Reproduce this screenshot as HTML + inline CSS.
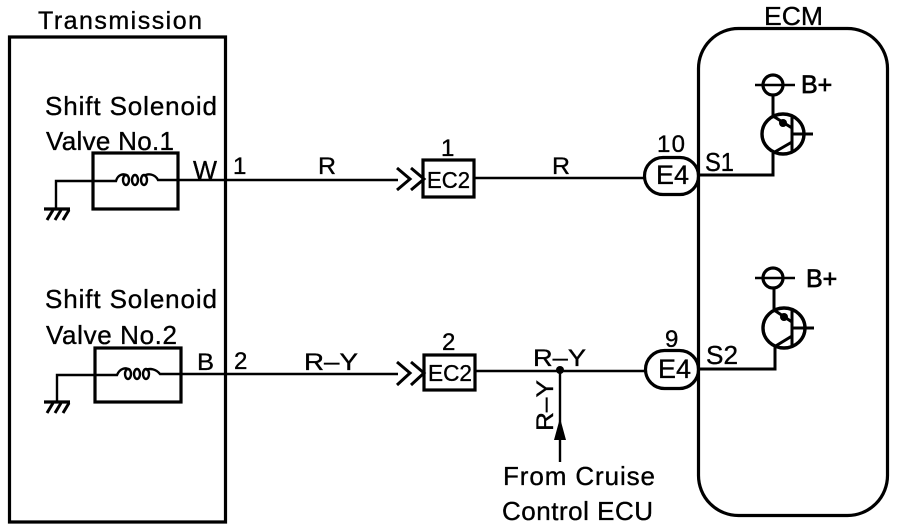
<!DOCTYPE html>
<html>
<head>
<meta charset="utf-8">
<style>
html,body{margin:0;padding:0;background:#fff}
svg{display:block}
text{font-family:"Liberation Sans",sans-serif;fill:#000;stroke:#000;stroke-width:.35;font-size:26px}
.t{font-size:24px}
.e{font-size:27px}
.w{fill:none;stroke:#000;stroke-width:2.4}
.a{fill:none;stroke:#000;stroke-width:3}
.b{fill:none;stroke:#000;stroke-width:3.2}
</style>
</head>
<body>
<svg width="912" height="530" viewBox="0 0 912 530" xmlns="http://www.w3.org/2000/svg">
<rect width="912" height="530" fill="#fff"/>

<!-- Transmission -->
<path class="b" d="M9.5 37H225.5V522H9.5Z"/>
<text x="38" y="29" style="font-size:25px" textLength="164" lengthAdjust="spacing">Transmission</text>
<text x="45" y="115" textLength="172" lengthAdjust="spacing">Shift Solenoid</text>
<text x="46" y="150" textLength="128" lengthAdjust="spacing">Valve No.1</text>
<text x="45" y="308" textLength="172" lengthAdjust="spacing">Shift Solenoid</text>
<text x="46" y="344" textLength="131" lengthAdjust="spacing">Valve No.2</text>

<!-- Solenoid 1 -->
<rect class="b" x="93" y="153" width="85" height="56"/>
<path class="w" d="M56 209V181H116C118 174 124 173 128 176M144 176C148 173 155 174 158 180H398"/>
<ellipse class="w" cx="126" cy="180" rx="3" ry="5"/>
<ellipse class="w" cx="135" cy="180" rx="3" ry="5"/>
<ellipse class="w" cx="144" cy="180" rx="3" ry="5"/>
<path class="b" d="M44 209H70"/>
<path class="a" d="M47 220L53 210M55 220L61 210M63 220L69 210"/>
<text x="193" y="179" textLength="24" lengthAdjust="spacingAndGlyphs">W</text>
<text x="233" y="174" class="t">1</text>
<text x="318" y="174" class="t" textLength="18" lengthAdjust="spacingAndGlyphs">R</text>

<!-- Arrow + EC2 top -->
<path class="a" d="M397 168L410 179L397 190M411 168L424 179L411 190"/>
<rect class="b" x="423" y="160" width="51" height="37"/>
<text x="427" y="188" style="font-size:23px" textLength="43" lengthAdjust="spacingAndGlyphs">EC2</text>
<text x="441" y="156" class="t">1</text>
<path class="w" d="M474 178H644"/>
<text x="552" y="174" class="t" textLength="18" lengthAdjust="spacingAndGlyphs">R</text>
<rect class="b" x="644.5" y="157.5" width="54" height="37" rx="18.5"/>
<text x="656" y="184" class="e" textLength="33" lengthAdjust="spacingAndGlyphs">E4</text>
<text x="657" y="152" class="t" textLength="28">10</text>

<!-- Solenoid 2 -->
<rect class="b" x="95" y="348" width="86" height="54"/>
<path class="w" d="M57 402V375H117C120 368 126 367 130 370M146 370C150 368 156 369 160 374H398"/>
<ellipse class="w" cx="128" cy="374" rx="3" ry="5"/>
<ellipse class="w" cx="137" cy="374" rx="3" ry="5"/>
<ellipse class="w" cx="146" cy="374" rx="3" ry="5"/>
<path class="b" d="M44 402H70"/>
<path class="a" d="M47 413L53 403M55 413L61 403M63 413L69 403"/>
<text x="197" y="370" class="t" textLength="17" lengthAdjust="spacingAndGlyphs">B</text>
<text x="234" y="369" class="t">2</text>
<text x="304" y="370" class="t" textLength="54" lengthAdjust="spacingAndGlyphs">R–Y</text>

<!-- Arrow + EC2 bottom -->
<path class="a" d="M397 362L410 373L397 385M411 362L424 373L411 385"/>
<rect class="b" x="424" y="355" width="51" height="35"/>
<text x="428" y="381" style="font-size:23px" textLength="44" lengthAdjust="spacingAndGlyphs">EC2</text>
<text x="442" y="350" class="t">2</text>
<path class="w" d="M475 371H645"/>
<text x="533" y="366" class="t" textLength="53" lengthAdjust="spacingAndGlyphs">R–Y</text>
<circle cx="560" cy="370" r="4" fill="#000"/>
<path class="w" d="M560 370V462"/>
<path d="M560 418L554 440H566Z" fill="#000"/>
<text transform="translate(553 431) rotate(-90)" class="t" textLength="51" lengthAdjust="spacingAndGlyphs">R–Y</text>
<text x="503" y="485" textLength="152" lengthAdjust="spacing">From Cruise</text>
<text x="502" y="520" textLength="151" lengthAdjust="spacing">Control ECU</text>
<rect class="b" x="645.5" y="350.5" width="53" height="38" rx="19"/>
<text x="658" y="378" class="e" textLength="33" lengthAdjust="spacingAndGlyphs">E4</text>
<text x="665" y="347" class="t">9</text>

<!-- ECM -->
<rect class="b" x="698.5" y="28.5" width="189" height="487" rx="40"/>
<text x="764" y="25" textLength="59" lengthAdjust="spacingAndGlyphs">ECM</text>

<!-- Transistor 1 -->
<text x="801" y="93" style="stroke-width:.7;font-size:25px">B+</text>
<circle class="b" cx="773" cy="85" r="10"/>
<path class="w" d="M755 85H795"/>
<path class="a" d="M773 95V116"/>
<ellipse cx="783" cy="134" rx="21" ry="20" fill="none" stroke="#000" stroke-width="3.4"/>
<path class="a" d="M792 116V152M792 134H813M773 153L792 142M773 116L792 128"/>
<circle cx="783" cy="123" r="4" fill="#000"/>
<path class="a" d="M773 153V175H699"/>
<text x="705" y="171" textLength="29" lengthAdjust="spacingAndGlyphs">S1</text>

<!-- Transistor 2 -->
<text x="806" y="287" style="stroke-width:.7;font-size:25px">B+</text>
<circle class="b" cx="773" cy="278" r="10"/>
<path class="w" d="M755 278H795"/>
<path class="a" d="M774 288V309"/>
<ellipse cx="784" cy="328" rx="21" ry="20" fill="none" stroke="#000" stroke-width="3.4"/>
<path class="a" d="M792 310V346M792 328H814M774 347L792 336M774 310L792 322"/>
<circle cx="784" cy="317" r="4" fill="#000"/>
<path class="a" d="M775 347V369H699"/>
<text x="706" y="364" textLength="32" lengthAdjust="spacingAndGlyphs">S2</text>
</svg>
</body>
</html>
